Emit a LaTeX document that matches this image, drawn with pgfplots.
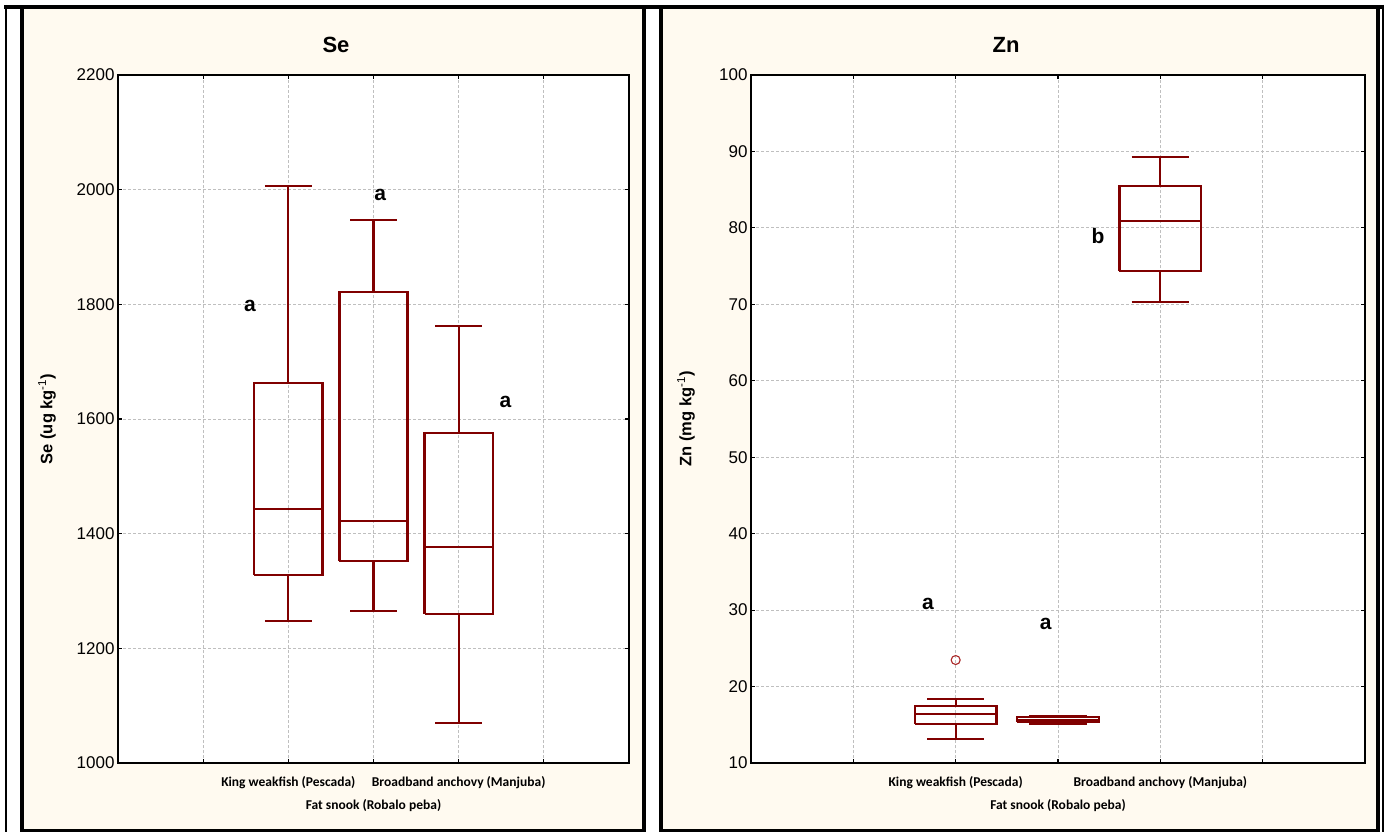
\documentclass[border=0pt]{standalone}
\usepackage{fontspec}
\setmainfont{Liberation Sans}
\newfontfamily\carlito{Carlito}
\usepackage{pgfplots}
\pgfplotsset{compat=1.18}
\definecolor{bg}{RGB}{255,250,240}
\definecolor{boxc}{RGB}{128,0,0}
\definecolor{outc}{RGB}{170,40,40}
\pgfplotsset{
  panel/.style={
    scale only axis,
    axis background/.style={fill=white},
    xmin=0, xmax=6,
    xtick={1,2,4,5},
    extra x ticks={3},
    extra x tick labels={Fat snook (Robalo peba)},
    extra x tick style={grid=major, x tick label style={yshift=-22.5pt}},
    grid=major,
    major grid style={dashed, dash pattern=on 3pt off 2pt, black!25, line width=0.9pt},
    axis line style={line width=1.3pt},
    tick align=inside,
    major tick length=4pt,
    tick style={black, line width=1.1pt},
    /pgf/number format/assume math mode=true,
    /pgf/number format/1000 sep={},
    y tick label style={font=\fontsize{17}{20}\selectfont},
    x tick label style={font=\carlito\bfseries\fontsize{13.5}{16}\selectfont, yshift=-10pt},
    clip=false,
  },
  bx/.style={boxc, line width=2.3pt, solid, mark=none, line join=miter},
}
\begin{document}
\begin{tikzpicture}
\useasboundingbox (0pt,0pt) rectangle (1389pt,-832pt);
\fill[white] (0pt,0pt) rectangle (1389pt,-832pt);
\draw[line width=2pt] (6pt,-5pt) -- (6pt,-832pt);
\draw[line width=2pt] (1383pt,-5pt) -- (1383pt,-832pt);
\filldraw[fill=bg, line width=4pt] (22pt,-7pt) rectangle (644pt,-830.5pt);
\filldraw[fill=bg, line width=4pt] (661pt,-7pt) rectangle (1377.5pt,-830.5pt);
\draw[line width=4pt] (4pt,-7pt) -- (1384pt,-7pt);

\node[font=\bfseries\fontsize{22}{26}\selectfont] at (336pt,-45pt) {Se};
\node[font=\bfseries\fontsize{22}{26}\selectfont] at (1006pt,-45pt) {Zn};
\node[rotate=90, font=\bfseries\fontsize{16.5}{20}\selectfont] at (47pt,-419pt) {Se (ug kg\textsuperscript{\mdseries -1})};
\node[rotate=90, font=\bfseries\fontsize{16.5}{20}\selectfont] at (686pt,-419pt) {Zn (mg kg\textsuperscript{\mdseries -1})};

\begin{axis}[panel, at={(118pt,-763pt)}, anchor=south west, width=511pt, height=688pt,
  ymin=1000, ymax=2200, ytick={1000,1200,...,2200},
  xticklabels={{},{King weakfish (Pescada)},{Broadband anchovy (Manjuba)},{}}]
% King weakfish (Pescada): 1248, 1328, 1443, 1663, 2006
\addplot[bx] coordinates {(1.6,1328) (2.4,1328) (2.4,1663) (1.6,1663) (1.6,1328)};
\addplot[bx] coordinates {(1.6,1443) (2.4,1443)};
\addplot[bx] coordinates {(2,1663) (2,2006)};
\addplot[bx] coordinates {(2,1328) (2,1248)};
\addplot[bx] coordinates {(1.725,2006) (2.275,2006)};
\addplot[bx] coordinates {(1.725,1248) (2.275,1248)};
% Fat snook (Robalo peba): 1265, 1352, 1422, 1822, 1947
\addplot[bx] coordinates {(2.6,1352) (3.4,1352) (3.4,1822) (2.6,1822) (2.6,1352)};
\addplot[bx] coordinates {(2.6,1422) (3.4,1422)};
\addplot[bx] coordinates {(3,1822) (3,1947)};
\addplot[bx] coordinates {(3,1352) (3,1265)};
\addplot[bx] coordinates {(2.725,1947) (3.275,1947)};
\addplot[bx] coordinates {(2.725,1265) (3.275,1265)};
% Broadband anchovy (Manjuba): 1070, 1260, 1377, 1576, 1762
\addplot[bx] coordinates {(3.6,1260) (4.4,1260) (4.4,1576) (3.6,1576) (3.6,1260)};
\addplot[bx] coordinates {(3.6,1377) (4.4,1377)};
\addplot[bx] coordinates {(4,1576) (4,1762)};
\addplot[bx] coordinates {(4,1260) (4,1070)};
\addplot[bx] coordinates {(3.725,1762) (4.275,1762)};
\addplot[bx] coordinates {(3.725,1070) (4.275,1070)};
\node[font=\bfseries\fontsize{21}{24}\selectfont] at (axis cs:1.55,1797) {a};
\node[font=\bfseries\fontsize{21}{24}\selectfont] at (axis cs:3.08,1991) {a};
\node[font=\bfseries\fontsize{21}{24}\selectfont] at (axis cs:4.55,1630) {a};
\end{axis}

\begin{axis}[panel, at={(751pt,-763pt)}, anchor=south west, width=614pt, height=688pt,
  ymin=10, ymax=100, ytick={10,20,...,100},
  xticklabels={{},{King weakfish (Pescada)},{Broadband anchovy (Manjuba)},{}}]
% King weakfish (Pescada): 13.18, 15.06, 16.45, 17.46, 18.37; outlier 23.47
\addplot[bx] coordinates {(1.6,15.06) (2.4,15.06) (2.4,17.46) (1.6,17.46) (1.6,15.06)};
\addplot[bx] coordinates {(1.6,16.45) (2.4,16.45)};
\addplot[bx] coordinates {(2,17.46) (2,18.37)};
\addplot[bx] coordinates {(2,15.06) (2,13.18)};
\addplot[bx] coordinates {(1.72,18.37) (2.28,18.37)};
\addplot[bx] coordinates {(1.72,13.18) (2.28,13.18)};
\addplot[only marks, mark=o, mark size=4.5pt, mark options={outc, line width=1.1pt}] coordinates {(2,23.47)};
% Fat snook (Robalo peba): 15.06, 15.36, 15.67, 15.98, 16.19
\addplot[bx] coordinates {(2.6,15.36) (3.4,15.36) (3.4,15.98) (2.6,15.98) (2.6,15.36)};
\addplot[bx] coordinates {(2.6,15.67) (3.4,15.67)};
\addplot[bx] coordinates {(3,15.98) (3,16.19)};
\addplot[bx] coordinates {(3,15.36) (3,15.06)};
\addplot[bx] coordinates {(2.72,16.19) (3.28,16.19)};
\addplot[bx] coordinates {(2.72,15.06) (3.28,15.06)};
% Broadband anchovy (Manjuba): 70.3, 74.4, 80.9, 85.5, 89.3
\addplot[bx] coordinates {(3.6,74.4) (4.4,74.4) (4.4,85.5) (3.6,85.5) (3.6,74.4)};
\addplot[bx] coordinates {(3.6,80.9) (4.4,80.9)};
\addplot[bx] coordinates {(4,85.5) (4,89.3)};
\addplot[bx] coordinates {(4,74.4) (4,70.3)};
\addplot[bx] coordinates {(3.72,89.3) (4.28,89.3)};
\addplot[bx] coordinates {(3.72,70.3) (4.28,70.3)};
\node[font=\bfseries\fontsize{21}{24}\selectfont] at (axis cs:1.73,30.8) {a};
\node[font=\bfseries\fontsize{21}{24}\selectfont] at (axis cs:2.88,28.2) {a};
\node[font=\bfseries\fontsize{21}{24}\selectfont] at (axis cs:3.39,78.9) {b};
\end{axis}
\end{tikzpicture}
\end{document}
